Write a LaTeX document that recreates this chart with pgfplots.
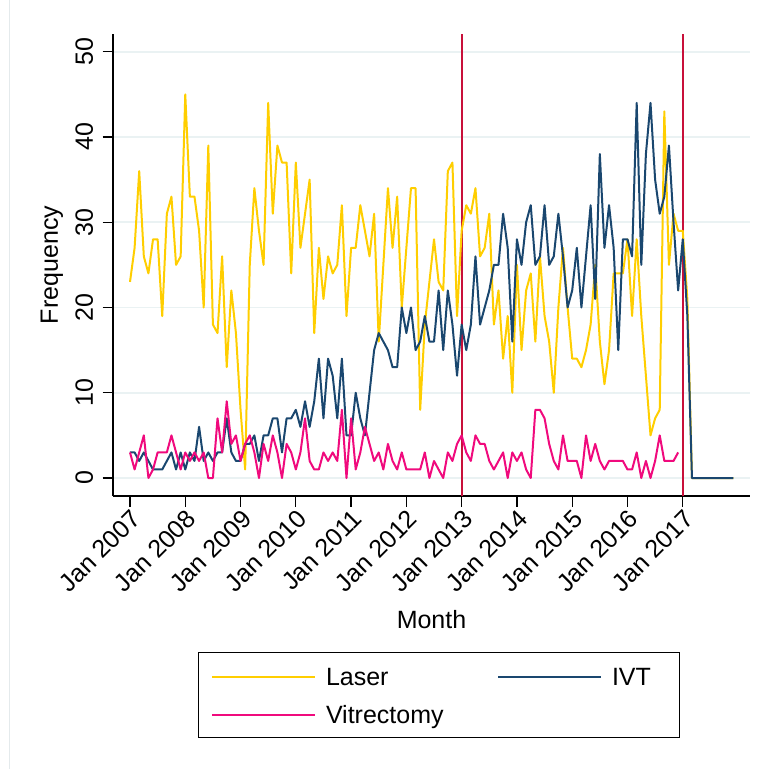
\documentclass[border=0pt]{standalone}
\usepackage{fontspec}
\setmainfont{Liberation Sans}
\usepackage{pgfplots}
\usepackage{pgfplotstable}
\pgfplotsset{compat=1.18}

\definecolor{laserc}{RGB}{255,206,0}
\definecolor{ivtc}{RGB}{26,71,111}
\definecolor{vitc}{RGB}{240,10,125}
\definecolor{refline}{RGB}{200,16,58}
\definecolor{gridc}{RGB}{234,242,243}
\definecolor{framec}{RGB}{228,234,236}

% monthly counts, month 0 = Jan 2007
\pgfplotstableread{
m laser ivt vit
0 23 3 3
1 27 3 1
2 36 2 3
3 26 3 5
4 24 2 0
5 28 1 1
6 28 1 3
7 19 1 3
8 31 2 3
9 33 3 5
10 25 1 3
11 26 3 1
12 45 1 3
13 33 3 2
14 33 2 3
15 29 6 2
16 20 2 3
17 39 3 0
18 18 2 0
19 17 3 7
20 26 3 3
21 13 7 9
22 22 3 4
23 17 2 5
24 8 2 2
25 1 4 4
26 25 4 5
27 34 5 3
28 29 2 0
29 25 5 4
30 44 5 2
31 31 7 5
32 39 7 3
33 37 3 0
34 37 7 4
35 24 7 3
36 37 8 1
37 27 6 3
38 31 9 7
39 35 6 2
40 17 9 1
41 27 14 1
42 21 7 3
43 26 14 2
44 24 12 3
45 25 7 2
46 32 14 8
47 19 5 0
48 27 5 7
49 27 10 1
50 32 7 3
51 29 5 6
52 26 10 4
53 31 15 2
54 16 17 3
55 25 16 1
56 34 15 4
57 27 13 2
58 33 13 1
59 20 20 3
60 27 17 1
61 34 20 1
62 34 15 1
63 8 16 1
64 18 19 3
65 23 16 0
66 28 16 2
67 23 22 1
68 22 15 0
69 36 22 3
70 37 18 2
71 19 12 4
72 29 18 5
73 32 15 3
74 31 18 2
75 34 26 5
76 26 18 4
77 27 20 4
78 31 22 2
79 18 25 1
80 22 25 2
81 14 31 3
82 19 27 0
83 10 16 3
84 25 28 2
85 15 25 3
86 22 30 1
87 24 32 0
88 16 25 8
89 26 26 8
90 19 32 7
91 16 25 4
92 10 26 2
93 20 31 1
94 27 26 5
95 20 20 2
96 14 22 2
97 14 27 2
98 13 20 0
99 15 26 5
100 18 32 2
101 25 21 4
102 16 38 2
103 11 27 1
104 15 32 2
105 24 27 2
106 24 15 2
107 24 28 2
108 28 28 1
109 19 26 1
110 28 44 3
111 19 25 0
112 12 38 2
113 5 44 0
114 7 35 2
115 8 31 5
116 43 33 2
117 25 39 2
118 31 30 2
119 29 22 3
120 29 28 nan
121 21 19 nan
122 0 0 nan
123 0 0 nan
124 0 0 nan
125 0 0 nan
126 0 0 nan
127 0 0 nan
128 0 0 nan
129 0 0 nan
130 0 0 nan
131 0 0 nan
}\monthly

\newcommand{\bigfont}{\fontsize{25bp}{30bp}\selectfont}
\newcommand{\lgstrut}{\rule{0pt}{20bp}}

\begin{document}
\begin{tikzpicture}
\useasboundingbox (-113bp,-273bp) rectangle (652bp,496bp);
% faint outer frame edge of the graph region
\draw[framec, line width=1bp] (-103.5bp,-273bp) -- (-103.5bp,496bp);
\begin{axis}[
  scale only axis,
  width=637bp, height=462bp,
  xmin=-3.69, xmax=134.6,
  ymin=-2.11, ymax=52.08,
  axis x line*=bottom, axis y line*=left,
  axis line style={black, line width=1.2bp, -},
  xtick={0,12,...,120},
  xticklabels={Jan 2007,Jan 2008,Jan 2009,Jan 2010,Jan 2011,Jan 2012,Jan 2013,Jan 2014,Jan 2015,Jan 2016,Jan 2017},
  ytick={0,10,...,50},
  tick align=outside,
  major tick length=10.5bp,
  tick style={black, line width=1.2bp},
  ymajorgrids,
  grid style={gridc, line width=1.6bp},
  /pgf/number format/assume math mode=true,
  tick label style={font=\bigfont},
  xticklabel style={rotate=45, anchor=north east, inner sep=1bp},
  yticklabel style={rotate=90, anchor=south, inner xsep=1bp, inner ysep=9.3bp},
  xlabel={Month}, ylabel={Frequency},
  label style={font=\bigfont},
  xlabel style={at={(axis description cs:0.5,-0.2684)}, anchor=center},
  ylabel style={at={(axis description cs:-0.0958,0.5)}, anchor=center},
  legend columns=2,
  legend image code/.code={\draw[#1] (0bp,-1bp) -- (103bp,-1bp);},
  legend style={at={(axis description cs:0.511,-0.3377)}, anchor=north,
    draw=black, line width=1bp, font=\bigfont,
    inner xsep=13bp, inner ysep=13bp,
    nodes={inner sep=0pt},
    row sep=16bp,
    /tikz/every odd column/.append style={column sep=10bp},
    /tikz/every even column/.append style={column sep=0bp}},
  every axis plot/.append style={line width=2bp, line join=round},
]
% policy change markers
\addplot[refline, line width=2bp, forget plot] coordinates {(72,-2.11) (72,52.08)};
\addplot[refline, line width=2bp, forget plot] coordinates {(120,-2.11) (120,52.08)};

\addplot[laserc] table[x=m, y=laser] {\monthly};
\addlegendentry{\makebox[171bp][l]{\lgstrut Laser}}
\addplot[ivtc] table[x=m, y=ivt] {\monthly};
\addlegendentry{\makebox[54bp][l]{\lgstrut IVT}}
\addplot[vitc] table[x=m, y=vit] {\monthly};
\addlegendentry{\makebox[171bp][l]{\lgstrut Vitrectomy}}
\end{axis}
\end{tikzpicture}
\end{document}
